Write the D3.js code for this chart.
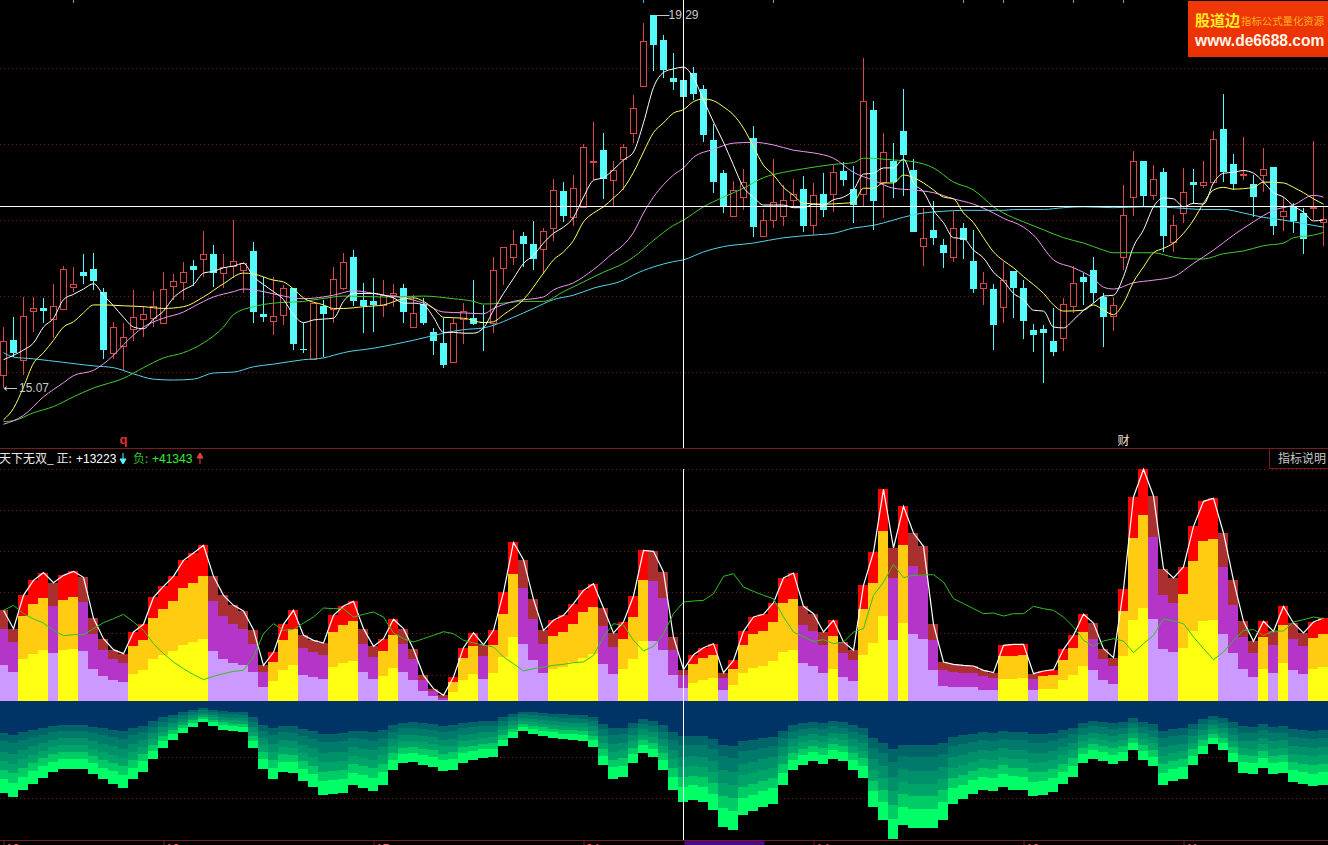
<!DOCTYPE html>
<html>
<head>
<meta charset="utf-8">
<script src="https://d3js.org/d3.v7.min.js"></script>
<style>
  html, body { margin: 0; padding: 0; background: #000; overflow: hidden; }
  svg { display: block; }
  text { font-family: "Liberation Sans", "Noto Sans CJK SC", sans-serif; }
</style>
</head>
<body>
<svg id="chart"></svg>
<script>
// Candles, one entry per day
const rising = [1,0,1,1,0,1,1,1,0,0,0,1,1,1,1,1,1,1,1,0,1,0,1,1,1,0,0,1,1,0,0,1,0,1,1,0,0,0,1,1,0,1,0,0,0,1,1,0,0,1,1,1,0,0,1,1,0,1,1,1,0,1,1,1,1,0,0,0,0,0,0,0,0,1,1,0,1,1,1,1,0,1,0,1,0,0,1,0,1,0,0,0,1,0,0,1,0,0,1,0,1,0,0,0,0,0,1,1,0,0,0,1,1,1,0,1,0,1,1,0,1,1,0,0,1,0,1,0,1,0,0,1,1];
const highs = [15.76,15.87,16.10,16.10,16.09,16.25,16.45,16.44,16.59,16.60,16.20,15.82,15.81,16.18,16.00,16.17,16.38,16.36,16.50,16.52,16.85,16.69,16.59,16.97,16.50,16.72,16.33,16.33,16.24,16.20,15.81,16.03,16.07,16.44,16.60,16.63,16.26,16.31,16.29,16.25,16.25,16.12,16.09,15.75,15.86,15.86,16.03,16.29,16.01,16.55,16.67,16.86,16.83,16.96,16.88,17.43,17.40,17.48,17.83,18.08,17.96,17.64,17.83,18.38,19.20,19.29,19.06,18.86,18.69,18.70,18.50,18.06,17.54,17.41,17.55,18.03,17.09,17.66,17.37,17.44,17.47,17.39,17.50,17.59,17.63,17.58,18.80,18.32,17.96,17.84,18.45,17.66,17.11,17.19,16.76,17.07,16.94,16.86,16.38,16.25,16.50,16.39,16.29,15.79,15.78,15.97,16.09,16.45,16.37,16.55,16.14,16.10,17.37,17.75,17.64,17.59,17.56,17.03,17.56,17.55,17.64,17.98,18.40,17.72,17.91,17.48,17.79,17.57,17.23,17.16,17.11,17.87,17.12];
const bodyTops = [15.60,15.61,15.89,15.97,15.97,16.00,16.42,16.25,16.38,16.42,16.16,15.76,15.65,15.87,15.91,16.00,16.19,16.28,16.38,16.45,16.59,16.59,16.44,16.51,16.48,16.62,15.91,15.89,16.20,16.20,15.51,16.03,16.00,16.30,16.50,16.55,16.07,16.05,16.12,16.15,16.20,15.92,16.02,15.70,15.58,15.81,15.94,15.86,15.82,16.41,16.67,16.70,16.79,16.70,16.85,17.31,17.30,17.33,17.80,17.64,17.76,17.54,17.80,18.24,19.00,19.29,19.01,18.58,18.55,18.63,18.45,17.88,17.50,17.31,17.40,17.90,16.97,17.17,17.20,17.27,17.32,17.25,17.27,17.51,17.53,17.32,18.32,18.22,17.74,17.64,17.98,17.54,16.77,16.86,16.69,16.88,16.88,16.51,16.26,16.19,16.29,16.39,16.20,15.73,15.74,15.60,16.02,16.26,16.33,16.41,16.10,16.01,17.03,17.64,17.64,17.43,17.51,16.91,17.29,17.40,17.40,17.89,18.00,17.60,17.49,17.38,17.55,17.57,17.07,17.12,17.05,17.12,16.98];
const bodyBottoms = [15.22,15.47,15.39,15.94,15.94,15.85,15.96,16.21,16.34,16.28,15.50,15.47,15.55,15.74,15.85,15.86,15.81,16.22,16.27,16.41,16.53,16.37,16.37,16.45,16.41,15.93,15.87,15.83,15.90,15.57,15.50,15.40,15.91,15.96,16.20,16.05,16.00,16.01,16.01,16.12,15.93,15.76,15.81,15.60,15.33,15.36,15.85,15.79,15.81,15.81,16.43,16.55,16.70,16.53,16.64,16.88,17.02,17.00,17.12,17.63,17.44,17.42,17.66,17.96,18.49,18.95,18.67,18.53,18.36,18.40,17.93,17.40,17.13,17.02,17.23,16.89,16.79,16.97,17.02,17.20,16.90,16.91,17.08,17.27,17.42,17.14,17.27,17.19,17.40,17.40,17.71,16.83,16.68,16.77,16.60,16.55,16.74,16.19,16.20,15.78,15.99,16.20,15.83,15.67,15.69,15.48,15.64,16.00,16.27,16.14,15.87,15.88,16.55,17.23,17.24,17.25,16.79,16.72,17.05,17.37,17.37,17.40,17.51,17.38,17.48,17.23,17.48,16.90,17.02,16.96,16.76,17.12,16.95];
const lows = [15.07,15.42,15.22,15.70,15.81,15.64,15.95,16.16,16.25,16.18,15.40,15.40,15.26,15.60,15.65,15.76,15.81,16.07,16.07,16.22,16.33,16.21,16.20,16.31,16.14,15.81,15.82,15.67,15.78,15.50,15.47,15.40,15.42,15.81,16.18,16.00,15.69,15.70,15.87,15.99,15.81,15.76,15.78,15.44,15.30,15.36,15.57,15.78,15.49,15.69,16.24,16.46,16.44,16.41,16.36,16.73,16.95,16.90,17.12,17.42,17.21,17.12,17.31,17.84,18.49,18.66,18.58,18.44,18.31,18.33,17.85,17.28,17.05,17.00,17.08,16.78,16.79,16.88,16.90,17.11,16.83,16.80,17.00,17.06,17.36,16.94,17.12,16.86,16.99,17.22,17.24,16.83,16.45,16.69,16.43,16.50,16.53,16.14,16.01,15.50,15.81,15.86,15.62,15.48,15.13,15.43,15.49,15.92,16.01,16.03,15.53,15.71,16.41,17.02,17.12,17.20,16.61,16.61,16.94,17.15,17.33,17.40,17.40,17.31,17.42,17.00,17.29,16.80,16.85,16.82,16.59,16.97,16.68];

// Moving averages. ma5 has a reading for every day, the slower ones are [day, price]
const ma5 = [15.39,15.44,15.50,15.58,15.76,15.86,16.07,16.13,16.19,16.25,16.12,16.00,15.87,15.76,15.74,15.85,15.94,16.09,16.18,16.24,16.37,16.39,16.43,16.45,16.48,16.33,16.24,16.16,16.07,15.90,15.81,15.84,15.85,15.86,16.05,16.14,16.14,16.14,16.12,16.09,16.03,16.03,16.01,15.87,15.70,15.70,15.69,15.69,15.75,15.95,16.14,16.31,16.48,16.57,16.71,16.82,16.89,17.00,17.23,17.42,17.45,17.54,17.65,17.74,18.07,18.47,18.64,18.68,18.70,18.58,18.33,18.08,17.85,17.59,17.34,17.23,17.14,17.14,17.14,17.11,17.11,17.15,17.14,17.20,17.23,17.31,17.49,17.50,17.56,17.56,17.66,17.39,17.29,17.08,16.94,16.77,16.76,16.63,16.54,16.38,16.28,16.14,16.07,15.95,15.94,15.76,15.75,15.84,15.95,16.03,16.11,16.12,16.33,16.67,16.86,17.12,17.22,17.21,17.12,17.16,17.15,17.39,17.50,17.51,17.53,17.50,17.40,17.28,17.23,17.13,17.06,16.96,16.97];
const ma10 = [[0,14.71],[1,14.84],[2,15.08],[3,15.35],[4,15.47],[5,15.61],[6,15.76],[7,15.82],[8,15.92],[9,16.01],[10,16.01],[12,16.00],[14,15.99],[16,15.97],[18,15.99],[20,16.10],[22,16.25],[24,16.37],[25,16.36],[27,16.29],[28,16.27],[29,16.19],[30,16.09],[32,16.01],[33,15.97],[34,15.97],[36,15.99],[38,16.01],[40,16.08],[41,16.09],[42,16.05],[43,15.97],[44,15.87],[46,15.86],[48,15.81],[49,15.82],[50,15.90],[52,16.07],[54,16.37],[55,16.52],[56,16.61],[57,16.74],[58,16.95],[59,17.05],[60,17.12],[61,17.22],[62,17.33],[63,17.51],[64,17.74],[65,17.96],[66,18.07],[67,18.18],[68,18.22],[69,18.31],[70,18.34],[71,18.32],[72,18.25],[73,18.16],[74,18.01],[75,17.80],[76,17.59],[77,17.48],[78,17.34],[79,17.25],[80,17.16],[82,17.15],[84,17.16],[85,17.17],[86,17.33],[87,17.33],[88,17.39],[89,17.39],[90,17.48],[91,17.45],[92,17.39],[93,17.31],[94,17.23],[95,17.21],[96,17.05],[97,16.94],[98,16.77],[99,16.61],[100,16.51],[101,16.43],[102,16.33],[103,16.24],[104,16.14],[105,16.01],[106,15.94],[108,15.95],[109,16.01],[110,15.95],[111,15.90],[112,16.03],[113,16.27],[114,16.44],[115,16.60],[116,16.65],[117,16.71],[118,16.82],[119,16.97],[120,17.16],[121,17.31],[122,17.34],[123,17.32],[125,17.34],[126,17.40],[128,17.39],[129,17.34],[130,17.28],[131,17.21],[132,17.15]];
const ma20 = [[0,14.66],[2,14.76],[4,14.97],[6,15.13],[7,15.21],[9,15.27],[11,15.44],[12,15.56],[14,15.76],[16,15.86],[18,15.93],[19,15.99],[21,16.10],[23,16.16],[24,16.19],[26,16.16],[28,16.11],[30,16.08],[33,16.12],[35,16.17],[38,16.12],[40,16.09],[42,16.03],[44,15.93],[46,15.92],[48,15.91],[49,15.97],[51,16.05],[54,16.10],[55,16.18],[57,16.26],[59,16.41],[61,16.60],[62,16.69],[63,16.83],[64,17.05],[65,17.23],[66,17.37],[67,17.48],[68,17.56],[69,17.68],[71,17.77],[73,17.84],[75,17.85],[77,17.82],[79,17.76],[81,17.73],[83,17.67],[85,17.51],[87,17.42],[89,17.33],[91,17.31],[93,17.28],[95,17.21],[97,17.15],[99,17.05],[100,16.99],[102,16.89],[103,16.80],[105,16.52],[107,16.43],[109,16.31],[110,16.21],[111,16.19],[113,16.26],[115,16.29],[117,16.33],[119,16.48],[121,16.63],[123,16.80],[125,16.95],[127,17.08],[129,17.14],[131,17.25],[132,17.23]];
const ma30 = [[0,14.69],[1,14.70],[3,14.79],[5,14.86],[7,14.97],[9,15.07],[12,15.18],[14,15.30],[16,15.41],[18,15.47],[20,15.58],[22,15.76],[23,15.90],[25,15.99],[27,16.03],[30,16.05],[33,16.10],[34,16.11],[38,16.10],[42,16.11],[45,16.08],[47,16.05],[48,16.02],[50,16.03],[52,16.05],[54,16.05],[56,16.16],[58,16.27],[60,16.38],[62,16.48],[63,16.55],[65,16.74],[67,16.91],[68,16.97],[70,17.12],[72,17.23],[74,17.33],[76,17.45],[78,17.51],[80,17.55],[83,17.60],[85,17.62],[86,17.67],[89,17.65],[91,17.63],[93,17.56],[95,17.40],[97,17.31],[98,17.22],[99,17.12],[100,17.05],[102,16.95],[104,16.86],[106,16.77],[108,16.71],[110,16.63],[111,16.60],[114,16.60],[115,16.60],[117,16.55],[119,16.53],[120,16.53],[122,16.59],[124,16.62],[126,16.68],[128,16.71],[129,16.77],[131,16.80],[132,16.83]];
const ma60 = [[0,15.47],[1,15.42],[3,15.40],[6,15.36],[9,15.32],[11,15.30],[13,15.23],[15,15.17],[17,15.16],[19,15.17],[21,15.24],[23,15.25],[25,15.31],[27,15.34],[30,15.39],[32,15.41],[33,15.44],[34,15.47],[37,15.52],[41,15.61],[44,15.69],[46,15.73],[48,15.75],[49,15.78],[51,15.87],[53,15.97],[55,16.07],[57,16.12],[59,16.20],[62,16.29],[63,16.35],[65,16.44],[67,16.50],[68,16.52],[70,16.61],[72,16.67],[75,16.71],[78,16.77],[81,16.80],[83,16.82],[85,16.88],[87,16.91],[89,16.97],[91,17.03],[92,17.05],[94,17.07],[96,17.08],[100,17.08],[101,17.09],[104,17.09],[106,17.11],[108,17.12],[111,17.11],[114,17.12],[117,17.11],[120,17.09],[122,17.09],[124,17.05],[126,17.00],[128,16.97],[130,16.93],[132,16.89]];

// Upper stack of the indicator: warm columns are yellow/orange/red, the others lilac/purple/brown
const warm = [0,0,1,1,1,0,1,1,0,0,0,0,0,1,1,1,1,1,1,1,1,0,0,0,0,0,0,1,1,1,0,0,0,1,1,1,0,0,1,1,0,0,0,0,0,1,1,1,0,1,1,1,0,0,0,1,1,1,1,1,0,0,1,1,1,0,0,0,0,1,1,1,0,1,1,1,1,1,1,1,0,0,0,1,0,0,1,1,1,0,1,0,0,0,0,0,0,0,0,0,1,1,1,0,1,1,1,1,1,0,0,0,1,1,1,0,0,0,1,1,1,1,0,0,0,0,1,0,1,0,0,1,1];
const stackLow = [5350,4350,6250,7100,7600,7200,7600,7750,7500,4850,3700,3200,2850,4000,4600,6250,6850,7450,8350,8850,9250,7450,6250,5700,5350,4350,2100,3000,4600,5350,3850,3600,3350,5100,5750,5950,4350,3250,3750,4950,4350,3100,1450,700,100,1350,3100,4100,3300,4250,6600,9600,8500,6100,4200,4850,5100,5850,6500,7100,5500,4000,4750,6350,8950,8950,7600,3850,2000,2750,3100,3500,1600,2350,4200,5000,5200,6000,7350,7600,5700,5200,4200,4750,3600,3000,6850,8750,12700,9100,11700,10000,9250,4600,2200,2100,2100,2100,1700,1600,3350,3350,3450,1600,1750,1850,3100,3850,5200,4600,3100,2500,6700,12200,13950,12250,7850,7300,7900,10450,11950,12100,10000,7200,4800,3550,4750,4200,5700,4600,4000,4750,5100];
const stackMid = [10850,8850,12750,14500,15400,14250,15100,15550,14850,10100,7600,6350,5700,8200,9200,12450,13750,14950,16950,17700,18750,14950,12750,11600,10850,8600,4350,5800,9100,10850,7900,7350,6850,10350,11350,11950,8600,6600,7500,9850,8600,6250,3100,1450,500,2850,6450,8250,6700,8450,13000,19050,16950,12250,8500,9750,10350,11600,13300,14050,11200,8100,9350,12600,18100,17950,15450,7600,3850,5500,6400,6850,3450,4850,8350,10100,10450,11850,14700,15250,11350,10500,8350,9700,7250,6100,13850,17750,25500,18450,23350,20200,18700,9200,4600,4350,4250,4250,3700,3450,6700,6750,6850,3350,3700,3850,6200,8000,10350,9250,6250,5200,13450,24450,27850,24600,15850,14700,16000,20950,24000,24300,20100,14350,9600,7200,9600,8350,11350,9250,8200,9400,10000];
const stackTop = [13600,10850,15850,18100,19250,17750,18850,19450,18550,12400,9350,7700,7100,10350,11500,15550,17200,18700,21100,22200,23350,18700,15850,14350,13500,10700,5350,7300,11500,13600,9850,9100,8700,12850,14250,14950,10850,8200,9350,12250,10850,7750,3850,1850,850,3600,8000,10250,8400,10600,16300,23800,21200,15250,10600,12100,12850,14600,16600,17600,13950,10200,11850,15750,22600,22450,19350,9600,4700,6950,8000,8600,4250,6100,10450,12600,13000,14750,18450,19200,14200,13100,10350,12100,8850,7600,17350,22350,31750,22950,29200,25200,23200,11500,5850,5500,5350,5250,4600,4250,8350,8500,8500,4100,4500,4700,7750,9850,13000,11700,7850,6500,16750,30600,34750,30750,19850,18450,20100,26200,29950,30400,25200,18100,11950,8950,11950,10450,14200,11700,10200,11850,12450];
// Green line over the upper stack
const negLine = [13600,14350,13100,12300,11700,10600,9800,9950,9950,10850,11750,12350,13000,11850,10600,8600,7100,5850,4850,3950,3200,3700,4100,4450,4600,6600,10100,11600,10600,10750,11700,12600,13950,13850,13850,12600,13000,13350,12600,10200,9350,8850,9350,9850,10400,10100,9100,8700,8400,8100,6600,5600,4500,4850,5100,5350,5500,5750,5850,6850,9600,11600,11350,9100,7500,8200,10100,13100,14850,15000,15100,16100,18700,19100,17100,16450,15850,15350,12600,10350,9600,8950,9200,8600,8850,10350,10850,15850,17850,20500,18500,18850,18900,18950,17850,15350,14600,13850,13100,13200,12750,13100,13100,14200,13850,13600,12600,11100,9100,8200,9000,9350,9000,7250,8600,9850,12350,12000,11600,9600,7850,6200,7350,9100,10600,10700,9850,10500,10500,11850,12200,12600,12350];

// Lower bands, depth below the zero line in hundreds
const negBand1 = [97,101,94,87,80,75,71,71,71,77,82,87,91,82,75,61,49,41,34,27,22,26,30,32,33,49,71,82,75,76,84,91,99,98,97,89,91,94,88,73,65,64,67,69,74,72,65,62,60,59,48,39,32,34,37,39,40,41,42,48,68,82,80,65,54,59,73,94,106,104,106,115,132,136,120,116,111,108,89,73,67,63,66,61,63,73,80,111,125,145,131,133,133,133,125,108,103,98,94,95,90,93,94,100,99,96,88,80,65,61,63,66,63,52,62,69,89,84,82,68,55,46,52,64,76,77,70,77,75,85,88,90,88];
const negBand2 = [121,127,118,109,101,94,89,89,89,97,103,109,115,103,94,77,62,52,42,34,28,33,38,40,41,62,90,103,94,95,106,114,124,123,121,111,115,119,110,92,82,81,84,87,92,91,81,78,75,74,60,49,40,43,46,49,51,52,53,61,85,103,100,82,68,74,92,118,133,131,133,144,166,171,151,146,140,136,111,92,84,80,84,76,80,92,101,140,157,183,164,168,168,168,158,136,130,123,118,119,113,117,118,126,125,120,110,100,82,76,79,84,80,65,77,86,111,106,103,85,70,57,65,81,95,97,88,97,95,107,110,113,110];
const negBand3 = [152,159,147,136,127,118,112,112,112,121,129,136,144,129,117,96,78,65,53,43,35,41,47,50,51,78,112,129,118,119,132,142,155,154,152,139,144,148,138,114,102,101,105,109,116,113,102,98,94,92,75,61,50,54,58,61,63,65,67,76,106,129,125,102,85,92,114,147,167,164,167,180,208,213,189,182,175,169,139,114,105,100,104,95,100,114,127,175,196,228,205,210,210,210,197,169,162,154,147,149,141,146,147,157,156,150,138,125,102,95,99,104,100,81,97,108,139,132,128,106,87,72,81,101,119,121,110,121,118,134,138,141,138];
const negBand4 = [179,188,174,161,150,139,132,132,132,143,153,161,170,153,138,114,92,77,62,51,42,49,56,58,60,92,133,153,139,140,156,168,183,182,179,164,170,176,163,135,121,119,124,129,136,134,120,116,111,109,88,72,59,64,68,72,75,77,79,90,125,152,148,121,101,109,135,174,197,194,197,213,246,252,223,215,207,200,164,135,124,118,124,112,118,135,150,207,231,270,242,248,248,248,233,200,192,182,174,176,167,173,174,186,184,177,163,148,121,112,117,124,118,96,114,127,164,156,151,125,103,84,96,119,140,143,130,143,140,158,163,166,163];
const negBand5 = [207,217,201,186,172,160,152,152,152,165,176,186,196,176,160,131,106,88,72,58,48,56,64,68,70,106,153,176,160,162,180,194,212,210,207,190,196,202,188,156,140,137,143,148,158,154,139,134,128,126,102,83,68,74,79,83,86,88,91,104,145,176,171,140,116,126,156,201,227,224,227,246,284,291,257,248,239,231,190,156,143,136,142,130,136,156,172,239,267,311,280,286,286,286,268,231,221,210,201,203,193,200,201,214,212,205,188,171,140,130,135,142,136,111,132,147,190,180,175,145,118,98,111,137,162,165,150,165,161,182,188,192,188];
const negBand6 = [235,246,228,211,196,182,173,173,173,187,200,211,222,200,181,149,120,100,82,66,54,64,73,76,79,120,173,200,182,184,204,220,240,238,235,215,222,230,213,177,158,156,162,168,178,175,157,151,145,143,116,94,77,83,89,94,98,100,103,117,164,199,194,158,132,143,177,228,258,253,258,279,321,330,292,281,270,262,215,177,162,154,162,147,154,177,196,270,303,353,317,324,324,324,304,262,251,238,228,230,218,226,228,243,241,232,213,194,158,147,153,162,154,126,150,167,215,204,198,164,134,110,126,156,184,187,170,187,183,207,213,218,213];
const negBand7 = [276,289,268,248,230,214,203,203,203,220,235,248,261,235,213,175,141,118,96,78,64,75,86,90,93,141,204,235,214,216,240,259,282,280,276,253,261,270,251,208,186,183,191,198,210,206,185,178,171,168,136,111,91,98,105,111,115,118,121,138,193,234,228,186,155,168,208,268,303,298,303,328,378,388,343,331,318,308,253,208,191,181,190,173,181,208,230,318,356,415,373,381,381,381,358,308,295,280,268,271,257,266,268,286,283,273,250,228,186,173,180,190,181,148,176,196,253,240,233,193,158,130,148,183,216,220,200,220,215,243,250,256,251];

// Axis ticks and marks
const dateTickDays = [0,16,37,58,81,102,118];
const dateTickLabels = ["12","10","17","24","14","18","11"];
const eventDays = [7,64,77,96,100,107,112];
const priceGrid = [18.69,17.83,16.97,16.11,15.25];
const stackGrid = [34800,28650,22500,16350,10200,3900];
const negGrid = [168,291];
const crossDay = 68;
const crossPrice = 17.13;
const maxPoint = [65, 19.29];
const minPoint = [0, 15.07];

// Set up of chart dimensions
const width = 1328;
const height = 845;
const svg = d3.select("#chart").attr("width", width).attr("height", height);

// Setting up scales
const x = d3.scaleLinear().domain([0, 132]).range([3.5, 1323.5]);
const yPrice = d3.scaleLinear().domain([15.07, 19.29]).range([388, 15]);
const yStack = d3.scaleLinear().domain([0, 34800]).range([701, 469]);
const yNeg = d3.scaleLinear().domain([0, 480]).range([701, 861]);
const days = d3.range(133);
const gridColor = "#7a1616";

// Dotted grid, price panel then indicator panel
const grid = svg.append("g").attr("stroke", gridColor).attr("stroke-dasharray", "1 3");
priceGrid.forEach((p) => {
  const y = Math.round(yPrice(p)) + 0.5;
  grid.append("line").attr("x1", 0).attr("x2", width).attr("y1", y).attr("y2", y);
});
stackGrid.forEach((v) => {
  const y = Math.round(yStack(v)) + 0.5;
  grid.append("line").attr("x1", 0).attr("x2", width).attr("y1", y).attr("y2", y);
});
// these sit under the bands, only the part on black stays visible
negGrid.forEach((v) => {
  const y = Math.round(yNeg(v)) + 0.5;
  grid.append("line").attr("x1", 0).attr("x2", width).attr("y1", y).attr("y2", y);
});

// Upper stack, tallest layer first so that the next one paints over it
const stackLayers = [
  { values: stackTop, warm: "#ff0000", cool: "#aa3030" },
  { values: stackMid, warm: "#ffcc11", cool: "#b535c8" },
  { values: stackLow, warm: "#ffff11", cool: "#cc99ff" },
];
stackLayers.forEach((layer) => {
  svg
    .append("g")
    .selectAll("rect")
    .data(days)
    .enter()
    .append("rect")
    .attr("x", (d) => x(d) - 5.5)
    .attr("width", 10)
    .attr("y", (d) => Math.round(yStack(layer.values[d])))
    .attr("height", (d) => 701 - Math.round(yStack(layer.values[d])))
    .attr("fill", (d) => (warm[d] ? layer.warm : layer.cool));
});

// Lower bands, deepest first
const negLayers = [
  { values: negBand7, fill: "#00ff66" },
  { values: negBand6, fill: "#00cc66" },
  { values: negBand5, fill: "#00a468" },
  { values: negBand4, fill: "#00906a" },
  { values: negBand3, fill: "#007a6a" },
  { values: negBand2, fill: "#006468" },
  { values: negBand1, fill: "#003366" },
];
negLayers.forEach((layer) => {
  svg
    .append("g")
    .selectAll("rect")
    .data(days)
    .enter()
    .append("rect")
    .attr("x", (d) => x(d) - 5.5)
    .attr("width", 10)
    .attr("y", 701)
    .attr("height", (d) => Math.round(yNeg(layer.values[d])) - 701)
    .attr("fill", layer.fill);
});

// Lines over the stack
const dayLine = d3.line().x((d, i) => x(i)).y((d) => yStack(d));
svg.append("path").attr("d", dayLine(stackTop)).attr("fill", "none").attr("stroke", "#ffffff").attr("stroke-width", 1.2);
svg.append("path").attr("d", dayLine(negLine)).attr("fill", "none").attr("stroke", "#33c022").attr("stroke-width", 1);

// Candles
const candles = svg.append("g");
const wickColor = (d) => (rising[d] ? "#d84848" : "#55fafa");
candles
  .selectAll("line.wick")
  .data(days)
  .enter()
  .append("line")
  .attr("class", "wick")
  .attr("x1", (d) => x(d))
  .attr("x2", (d) => x(d))
  .attr("y1", (d) => Math.round(yPrice(highs[d])))
  .attr("y2", (d) => Math.round(yPrice(lows[d])))
  .attr("stroke", wickColor);
candles
  .selectAll("rect.body")
  .data(days)
  .enter()
  .append("rect")
  .attr("class", "body")
  .attr("x", (d) => (rising[d] ? x(d) - 3 : x(d) - 3.5))
  .attr("width", (d) => (rising[d] ? 6 : 7))
  .attr("y", (d) => Math.round(yPrice(bodyTops[d])) + (rising[d] ? 0.5 : 0))
  .attr("height", (d) => Math.max(1, Math.round(yPrice(bodyBottoms[d])) - Math.round(yPrice(bodyTops[d]))))
  .attr("fill", (d) => (rising[d] ? "#000000" : "#55fafa"))
  .attr("stroke", (d) => (rising[d] ? "#d84848" : "none"));

// Moving average lines
const pairLine = d3.line().curve(d3.curveMonotoneX).x((d) => x(d[0])).y((d) => yPrice(d[1]));
const maSeries = [
  { points: ma60, color: "#55d4e8" },
  { points: ma30, color: "#44cc2e" },
  { points: ma20, color: "#ee99f0" },
  { points: ma10, color: "#ffff66" },
  { points: ma5.map((p, i) => [i, p]), color: "#ffffff" },
];
maSeries.forEach((s) => {
  svg.append("path").attr("d", pairLine(s.points)).attr("fill", "none").attr("stroke", s.color).attr("stroke-width", 1);
});

// Crosshair
const crossX = x(crossDay);
const crossY = Math.round(yPrice(crossPrice)) + 0.5;
svg.append("line").attr("x1", 0).attr("x2", width).attr("y1", crossY).attr("y2", crossY).attr("stroke", "#ffffff");
svg.append("line").attr("x1", crossX).attr("x2", crossX).attr("y1", 0).attr("y2", 448).attr("stroke", "#ffffff");
svg.append("line").attr("x1", crossX).attr("x2", crossX).attr("y1", 469).attr("y2", 840).attr("stroke", "#ffffff");

// Highest and lowest price notes
const noteColor = "#c8c8c8";
svg.append("line")
  .attr("x1", x(maxPoint[0]) + 3).attr("x2", x(maxPoint[0]) + 16)
  .attr("y1", yPrice(maxPoint[1]) + 0.5).attr("y2", yPrice(maxPoint[1]) + 0.5).attr("stroke", noteColor);
svg.append("text").attr("x", x(maxPoint[0]) + 15).attr("y", yPrice(maxPoint[1]) + 4)
  .attr("fill", noteColor).attr("font-size", 12).text(maxPoint[1].toFixed(2));
svg.append("path")
  .attr("d", `M4 ${yPrice(minPoint[1]) + 0.5}H17M4 ${yPrice(minPoint[1]) + 0.5}l3 -2M4 ${yPrice(minPoint[1]) + 0.5}l3 2`)
  .attr("stroke", noteColor).attr("fill", "none");
svg.append("text").attr("x", 19).attr("y", yPrice(minPoint[1]) + 4)
  .attr("fill", noteColor).attr("font-size", 12).text(minPoint[1].toFixed(2));

// Event marks along the top edge and above the panel border
svg.append("g")
  .selectAll("line")
  .data(eventDays)
  .enter()
  .append("line")
  .attr("x1", (d) => x(d))
  .attr("x2", (d) => x(d))
  .attr("y1", 0)
  .attr("y2", 3)
  .attr("stroke", "#5aa8c8");
svg.append("text").attr("x", x(12)).attr("y", 444).attr("text-anchor", "middle")
  .attr("fill", "#e03030").attr("font-size", 13).attr("font-weight", "bold").text("q");
svg.append("text").attr("x", x(112)).attr("y", 445).attr("text-anchor", "middle")
  .attr("fill", "#f0e0d0").attr("font-size", 12).attr("font-family", "Noto Sans CJK SC").text("财");

// Panel border and indicator header
svg.append("line").attr("x1", 0).attr("x2", width).attr("y1", 448.5).attr("y2", 448.5).attr("stroke", "#7a1c1c");
const header = svg.append("text").attr("y", 463).attr("font-size", 12);
header.append("tspan").attr("x", -1).attr("fill", "#e8e8e8").attr("font-family", "Noto Sans CJK SC").text("天下无双_ 正:");
header.append("tspan").attr("x", 76).attr("fill", "#ffffff").text("+13223");
header.append("tspan").attr("x", 133).attr("fill", "#33bb22").attr("font-family", "Noto Sans CJK SC").text("负:");
header.append("tspan").attr("x", 152).attr("fill", "#33ee33").text("+41343");
svg.append("path").attr("d", "M123 453V463M120 459L123 464L126 459Z").attr("stroke", "#55fafa").attr("fill", "#55fafa");
svg.append("path").attr("d", "M200 464V454M197 458L200 453L203 458Z").attr("stroke", "#e04040").attr("fill", "#e04040");
svg.append("path").attr("d", "M1269.5 449V468.5H1328").attr("fill", "none").attr("stroke", "#7a1c1c");
svg.append("text").attr("x", 1278).attr("y", 463).attr("fill", "#c8c8c8").attr("font-size", 12)
  .attr("font-family", "Noto Sans CJK SC").text("指标说明");

// Date axis, cut off by the bottom of the window as in the screenshot
const xAxis = d3
  .axisBottom(x)
  .tickValues(dateTickDays)
  .tickSize(5)
  .tickFormat((d, i) => dateTickLabels[i]);
svg.append("rect").attr("x", crossX + 1).attr("y", 841).attr("width", 80).attr("height", 4).attr("fill", "#4b0a8c");
const axisG = svg.append("g").attr("transform", "translate(0, 840.5)").call(xAxis);
axisG.select(".domain").attr("stroke", "#7a1c1c").attr("d", `M0 0H${width}`);
axisG.selectAll("line").attr("stroke", "#7a1c1c");
axisG.selectAll("text").attr("fill", "#ee6666").attr("text-anchor", "start").attr("x", 2).attr("y", 4).attr("font-size", 12);

// Watermark badge
const defs = svg.append("defs");
const badgeFill = defs.append("linearGradient").attr("id", "badgeFill").attr("x1", 0).attr("x2", 0).attr("y1", 0).attr("y2", 1);
badgeFill.append("stop").attr("offset", "0%").attr("stop-color", "#f03808");
badgeFill.append("stop").attr("offset", "100%").attr("stop-color", "#e83000");
svg.append("rect").attr("x", 1188).attr("y", 1).attr("width", 140).attr("height", 56).attr("fill", "url(#badgeFill)");
svg.append("text").attr("x", 1195).attr("y", 26).attr("fill", "#ffee22").attr("font-size", 15)
  .attr("font-weight", "bold").attr("font-family", "Noto Sans CJK SC").text("股道边");
svg.append("text").attr("x", 1241).attr("y", 25).attr("fill", "#ffb020").attr("font-size", 10.4)
  .attr("font-family", "Noto Sans CJK SC").text("指标公式量化资源");
svg.append("text").attr("x", 1195).attr("y", 46).attr("fill", "#fff4e8").attr("font-size", 15.6)
  .attr("font-weight", "bold").attr("font-family", "Liberation Sans").text("www.de6688.com");
</script>
</body>
</html>
